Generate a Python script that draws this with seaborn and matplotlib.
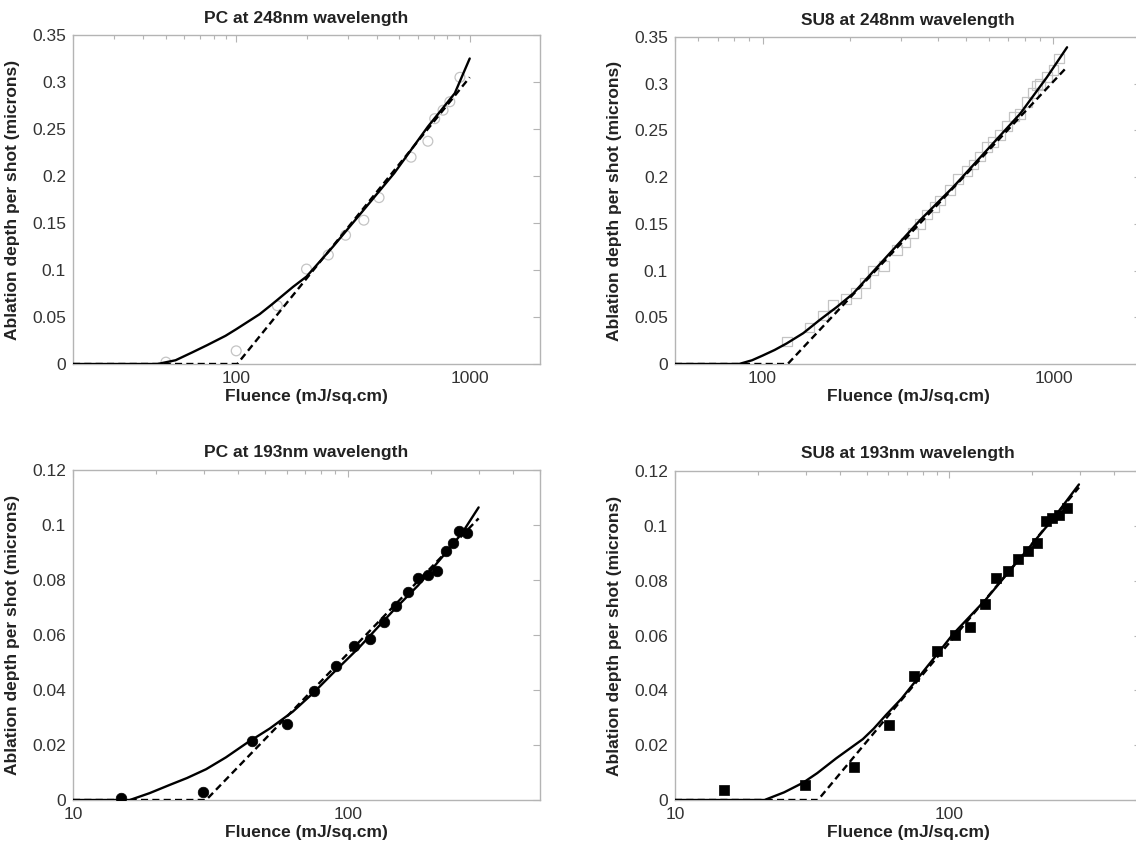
import numpy as np
import pandas as pd
import seaborn as sns
import matplotlib.pyplot as plt
from matplotlib.ticker import FuncFormatter, LogLocator, FixedLocator

# PC at 248nm - open grey circles + fits
pc248_x = [50, 100, 150, 200, 248, 294, 352, 409, 561, 662, 708, 769, 822, 908]
pc248_y = [0.002, 0.014, 0.062, 0.101, 0.116, 0.137, 0.153, 0.177, 0.220, 0.237, 0.261, 0.270, 0.279, 0.305]
pc248_fit_x = [20, 46, 55, 65, 75, 90, 100, 126, 144, 175, 200, 260, 341, 475, 662, 863, 1000]
pc248_fit_y = [0, 0, 0.004, 0.0125, 0.020, 0.030, 0.037, 0.053, 0.0645, 0.082, 0.093, 0.125,
               0.160, 0.203, 0.2525, 0.288, 0.325]
pc248_lin_x = [20, 101, 1000]
pc248_lin_y = [0, 0, 0.305]

# SU8 at 248nm - open grey squares + fits
su248_x = [121, 145, 161, 175, 194, 210, 225, 240, 262, 289, 310, 330, 347, 367, 390, 408,
           441, 470, 504, 531, 560, 590, 620, 656, 692, 730, 769, 811, 850, 879, 902, 951, 1000, 1042]
su248_y = [0.024, 0.039, 0.052, 0.063, 0.070, 0.076, 0.087, 0.100, 0.105, 0.122, 0.130, 0.140,
           0.150, 0.160, 0.168, 0.175, 0.186, 0.198, 0.207, 0.2135, 0.222, 0.232, 0.238, 0.245,
           0.255, 0.265, 0.268, 0.280, 0.290, 0.298, 0.300, 0.307, 0.315, 0.327]
su248_fit_x = [50, 83, 92, 100, 110, 121, 138, 157, 180, 205, 267, 348, 453, 590, 769, 950, 1114]
su248_fit_y = [0, 0, 0.004, 0.009, 0.015, 0.022, 0.033, 0.047, 0.061, 0.0755, 0.1148, 0.154,
               0.1896, 0.2288, 0.268, 0.307, 0.339]
su248_lin_x = [50, 122, 1114]
su248_lin_y = [0, 0, 0.318]

# PC at 193nm - filled black circles + fits
pc193_x = [15.0, 29.8, 44.8, 60.1, 75, 90.2, 105.2, 120, 134.9, 150, 165.3, 179.8, 195.6,
           210.8, 226.6, 241, 253.5, 271]
pc193_y = [0.0008, 0.003, 0.0216, 0.0275, 0.0398, 0.0488, 0.0561, 0.0585, 0.0648, 0.0705,
           0.0758, 0.0806, 0.0818, 0.0834, 0.0907, 0.0936, 0.0978, 0.0972]
pc193_fit_x = [10, 16.1, 19, 22.5, 26, 30.5, 36, 42.7, 52, 63, 75, 88, 110, 146, 180, 221, 260, 299]
pc193_fit_y = [0, 0, 0.0025, 0.0055, 0.008, 0.0112, 0.0155, 0.0206, 0.026, 0.0321, 0.039,
               0.046, 0.0555, 0.0688, 0.078, 0.0885, 0.097, 0.1064]
pc193_lin_x = [10, 30.5, 299]
pc193_lin_y = [0, 0, 0.1024]

# SU8 at 193nm - filled black squares + fits
su193_x = [15.1, 29.9, 44.9, 60.2, 74.6, 89.9, 105.2, 119.2, 134.8, 148.6, 164.3, 178.7,
           193.8, 209.4, 224.7, 237.7, 251.4, 269.4]
su193_y = [0.0037, 0.0055, 0.0122, 0.0272, 0.0453, 0.0544, 0.0603, 0.0631, 0.0716, 0.0810,
           0.0834, 0.0879, 0.0907, 0.0938, 0.1017, 0.1027, 0.1041, 0.1066]
su193_fit_x = [10, 21.2, 25, 29.3, 33, 38.7, 43, 48.4, 53, 58.9, 67, 77.8, 90, 102.8, 135.8,
               179.7, 237.8, 297]
su193_fit_y = [0, 0, 0.0028, 0.0063, 0.0098, 0.0152, 0.0185, 0.0222, 0.026, 0.0311, 0.037,
               0.0451, 0.053, 0.0603, 0.0731, 0.0877, 0.1023, 0.1151]
su193_lin_x = [10, 33.2, 297]
su193_lin_y = [0, 0, 0.1140]

sns.set_style("white")
plt.rcParams['font.family'] = ['Liberation Sans', 'DejaVu Sans']
plt.rcParams['xtick.direction'] = 'in'
plt.rcParams['ytick.direction'] = 'in'

W, H = 1136, 850
fig = plt.figure(figsize=(W / 100, H / 100), dpi=100)


def make_axes(l, r, t, b):
    return fig.add_axes([l / W, 1 - b / H, (r - l) / W, (b - t) / H])


spine_col = '#b4b4b4'
fs = 12.5


def style(ax, title, xlim, ylim, yticks, xmajors):
    ax.set_xscale('log')
    ax.set_xlim(*xlim)
    ax.set_ylim(*ylim)
    ax.set_yticks(yticks)
    ax.yaxis.set_major_formatter(FuncFormatter(lambda v, p: '%g' % round(v, 4)))
    ax.xaxis.set_major_locator(FixedLocator(xmajors))
    ax.xaxis.set_minor_locator(LogLocator(base=10, subs=np.arange(2, 10)))
    ax.xaxis.set_major_formatter(FuncFormatter(lambda v, p: '%d' % v))
    ax.xaxis.set_minor_formatter(FuncFormatter(lambda v, p: ''))
    for s in ax.spines.values():
        s.set_visible(True)
        s.set_color(spine_col)
        s.set_linewidth(1.0)
    ax.tick_params(which='both', direction='in', top=True, right=True, color=spine_col,
                   labelsize=fs, labelcolor='#333333', width=0.8)
    ax.tick_params(which='major', length=5, pad=5)
    ax.tick_params(which='minor', length=3)
    ax.set_title(title, fontsize=fs, fontweight='bold', color='#222222', pad=9)
    ax.set_xlabel('Fluence (mJ/sq.cm)', fontsize=fs, fontweight='bold', color='#222222', labelpad=2)
    ax.set_ylabel('Ablation depth per shot (microns)', fontsize=fs, fontweight='bold', color='#222222')
    ax.yaxis.set_label_coords(-0.113, 0.5)


def draw(ax, px, py, fx, fy, lx, ly, marker, filled):
    if filled:
        sns.scatterplot(x=px, y=py, ax=ax, marker=marker, color='black', edgecolor='black',
                        s=58, linewidth=0.5, zorder=3)
    else:
        sns.scatterplot(x=px, y=py, ax=ax, marker=marker, color='none', edgecolor='#c4c4c4',
                        s=50, linewidth=0.9, zorder=1)
    sns.lineplot(x=fx, y=fy, ax=ax, color='black', lw=1.7, sort=False, zorder=4)
    sns.lineplot(x=lx, y=ly, ax=ax, color='black', lw=1.7, sort=False, zorder=4,
                 linestyle='--', dashes=None)
    ax.lines[-1].set_dashes([3, 1.8])


ax1 = make_axes(73, 540, 35, 364)
draw(ax1, pc248_x, pc248_y, pc248_fit_x, pc248_fit_y, pc248_lin_x, pc248_lin_y, 'o', False)
style(ax1, 'PC at 248nm wavelength', (20, 2000), (0, 0.35),
      [0, 0.05, 0.1, 0.15, 0.2, 0.25, 0.3, 0.35], [100, 1000])

ax2 = make_axes(675, 1141, 37, 364)
draw(ax2, su248_x, su248_y, su248_fit_x, su248_fit_y, su248_lin_x, su248_lin_y, 's', False)
style(ax2, 'SU8 at 248nm wavelength', (50, 2000), (0, 0.35),
      [0, 0.05, 0.1, 0.15, 0.2, 0.25, 0.3, 0.35], [100, 1000])

ax3 = make_axes(73, 540, 470, 800)
draw(ax3, pc193_x, pc193_y, pc193_fit_x, pc193_fit_y, pc193_lin_x, pc193_lin_y, 'o', True)
style(ax3, 'PC at 193nm wavelength', (10, 500), (0, 0.12),
      [0, 0.02, 0.04, 0.06, 0.08, 0.1, 0.12], [10, 100])

ax4 = make_axes(675, 1141, 471, 800)
draw(ax4, su193_x, su193_y, su193_fit_x, su193_fit_y, su193_lin_x, su193_lin_y, 's', True)
style(ax4, 'SU8 at 193nm wavelength', (10, 500), (0, 0.12),
      [0, 0.02, 0.04, 0.06, 0.08, 0.1, 0.12], [10, 100])

fig.savefig('out.png', dpi=100, facecolor='white')
